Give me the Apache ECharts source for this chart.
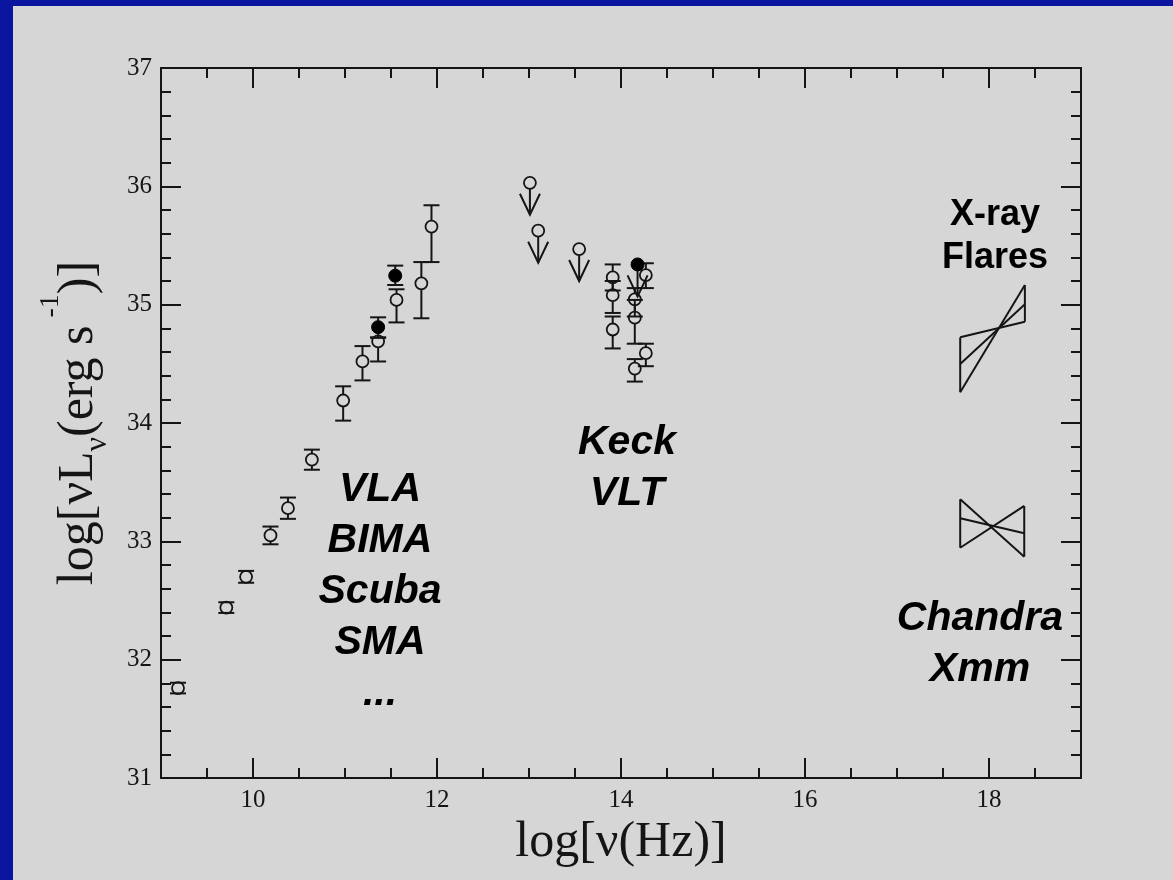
<!DOCTYPE html>
<html>
<head>
<meta charset="utf-8">
<script src="https://cdn.jsdelivr.net/npm/echarts@6/dist/echarts.min.js"></script>
<style>
  html, body { margin: 0; padding: 0; width: 1173px; height: 880px; overflow: hidden; background: #0b16a0; }
  #chart { position: absolute; left: 13px; top: 6px; width: 1160px; height: 874px; background: #d6d6d6; }
</style>
</head>
<body>
<div id="chart"></div>
<script>
// Axis ticks
const xMajorTicks = [10, 12, 14, 16, 18];

// Detections, open symbols: [log nu, log nuL_nu, lower error, upper error]
const openPoints = [
  [9.185, 31.76, 31.715, 31.805],
  [9.71, 32.44, 32.395, 32.485],
  [9.925, 32.70, 32.65, 32.75],
  [10.19, 33.05, 32.975, 33.125],
  [10.38, 33.28, 33.19, 33.37],
  [10.64, 33.69, 33.605, 33.775],
  [10.98, 34.19, 34.02, 34.31],
  [11.19, 34.52, 34.36, 34.65],
  [11.36, 34.69, 34.52, 34.72],
  [11.56, 35.04, 34.85, 35.13],
  [11.83, 35.18, 34.885, 35.36],
  [11.94, 35.66, 35.36, 35.84],
  [13.91, 35.23, 35.12, 35.34],
  [13.91, 35.08, 34.93, 35.20],
  [13.91, 34.79, 34.63, 34.90],
  [14.15, 35.045, 34.90, 35.14],
  [14.15, 34.89, 34.67, 35.04],
  [14.15, 34.46, 34.35, 34.54],
  [14.27, 35.25, 35.14, 35.35],
  [14.27, 34.59, 34.48, 34.67]
];

// Detections, filled symbols: [log nu, log nuL_nu, lower error, upper error]
const filledPoints = [
  [11.36, 34.81, 34.724, 34.893],
  [11.546, 35.245, 35.166, 35.33]
];

// Upper limits: [log nu, log nuL_nu]
const openLimits = [
  [13.01, 36.03],
  [13.10, 35.625],
  [13.545, 35.47]
];
const filledLimits = [
  [14.18, 35.34]
];

// X-ray bow ties: [x left, x right, y at left, y at right] for each spectral slope
const flareBowtie = [
  [17.687, 18.39, 34.724, 34.856],
  [17.687, 18.39, 34.499, 35.003],
  [17.687, 18.39, 34.26, 35.166]
];
const quiescentBowtie = [
  [17.687, 18.383, 33.355, 32.870],
  [17.687, 18.383, 33.195, 33.068],
  [17.687, 18.383, 32.946, 33.299]
];

const ink = '#151515';
const lineStyle = { color: ink, width: 2 };
const R_OPEN = 6;
const R_FILLED = 6.5;
const CAP = 8;

function errorBarItem(radius) {
  return function (params, api) {
    const x = api.value(0), y = api.value(1), lo = api.value(2), hi = api.value(3);
    const c = api.coord([x, y]);
    const pLo = api.coord([x, lo]);
    const pHi = api.coord([x, hi]);
    const st = { stroke: ink, lineWidth: 2 };
    const kids = [];
    if (pHi[1] < c[1] - radius) {
      kids.push({ type: 'line', shape: { x1: c[0], y1: pHi[1], x2: c[0], y2: c[1] - radius }, style: st });
    }
    if (pLo[1] > c[1] + radius) {
      kids.push({ type: 'line', shape: { x1: c[0], y1: c[1] + radius, x2: c[0], y2: pLo[1] }, style: st });
    }
    kids.push({ type: 'line', shape: { x1: c[0] - CAP, y1: pHi[1], x2: c[0] + CAP, y2: pHi[1] }, style: st });
    kids.push({ type: 'line', shape: { x1: c[0] - CAP, y1: pLo[1], x2: c[0] + CAP, y2: pLo[1] }, style: st });
    return { type: 'group', children: kids };
  };
}

function arrowItem(radius) {
  return function (params, api) {
    const c = api.coord([api.value(0), api.value(1)]);
    const tip = c[1] + 32;
    const st = { stroke: ink, lineWidth: 2, fill: 'none' };
    return {
      type: 'group',
      children: [
        { type: 'line', shape: { x1: c[0], y1: c[1] + radius, x2: c[0], y2: tip }, style: st },
        { type: 'polyline', shape: { points: [[c[0] - 10, tip - 21], [c[0], tip], [c[0] + 10, tip - 21]] }, style: st }
      ]
    };
  };
}

function bowtieItem(params, api) {
  const a = api.coord([api.value(0), api.value(2)]);
  const b = api.coord([api.value(1), api.value(3)]);
  return { type: 'line', shape: { x1: a[0], y1: a[1], x2: b[0], y2: b[1] }, style: { stroke: ink, lineWidth: 2 } };
}

function bowtieEnds(rows) {
  const ys0 = rows.map(r => r[2]), ys1 = rows.map(r => r[3]);
  return [
    [rows[0][0], rows[0][0], Math.min(...ys0), Math.max(...ys0)],
    [rows[0][1], rows[0][1], Math.min(...ys1), Math.max(...ys1)]
  ];
}
function endItem(params, api) {
  const a = api.coord([api.value(0), api.value(2)]);
  const b = api.coord([api.value(1), api.value(3)]);
  return { type: 'line', shape: { x1: a[0], y1: a[1], x2: b[0], y2: b[1] }, style: { stroke: ink, lineWidth: 2 } };
}

const serif = 'Liberation Serif';
const sans = 'Liberation Sans';

function xAxisPair(position, withLabels) {
  const minor = {
    type: 'value', position: position, min: 9, max: 19, interval: 0.5,
    axisLine: { show: true, onZero: false, lineStyle: lineStyle },
    axisTick: { show: true, inside: true, length: 10, lineStyle: lineStyle },
    axisLabel: { show: false }, splitLine: { show: false }
  };
  const major = {
    type: 'value', position: position, min: 9, max: 19,
    axisLine: { show: false, onZero: false },
    axisTick: { show: true, inside: true, length: 20, customValues: xMajorTicks, lineStyle: lineStyle },
    axisLabel: withLabels
      ? { show: true, customValues: xMajorTicks, margin: 10, color: ink, fontFamily: serif, fontSize: 25 }
      : { show: false },
    splitLine: { show: false }
  };
  if (withLabels) {
    major.name = 'log[ν(Hz)]';
    major.nameLocation = 'middle';
    major.nameGap = 36;
    major.nameTextStyle = { color: ink, fontFamily: serif, fontSize: 50, verticalAlign: 'top' };
  }
  return [minor, major];
}

function yAxisDef(position, withLabels) {
  const ax = {
    type: 'value', position: position, min: 31, max: 37, interval: 1,
    axisLine: { show: true, onZero: false, lineStyle: lineStyle },
    axisTick: { show: true, inside: true, length: 20, lineStyle: lineStyle },
    minorTick: { show: true, splitNumber: 5, length: 10, lineStyle: lineStyle },
    axisLabel: withLabels
      ? { show: true, margin: 9, color: ink, fontFamily: serif, fontSize: 25, showMinLabel: true, showMaxLabel: true }
      : { show: false },
    splitLine: { show: false }, minorSplitLine: { show: false }
  };
  if (withLabels) {
    ax.name = '{m|log[νL}{sub|ν}{m|(erg s}{sup|-1}{m|)]}';
    ax.nameLocation = 'middle';
    ax.nameGap = 40;
    ax.nameRotate = 90;
    ax.nameTextStyle = {
      color: ink, fontFamily: serif, fontSize: 50,
      rich: {
        m: { fontFamily: serif, fontSize: 50, color: ink },
        sub: { fontFamily: serif, fontSize: 32, color: ink, padding: [38, 0, 0, 0] },
        sup: { fontFamily: serif, fontSize: 28, color: ink, padding: [0, 0, 56, 8] }
      }
    };
  }
  return ax;
}

const chart = echarts.init(document.getElementById('chart'), null, { renderer: 'canvas' });

const italicLabel = (x, y, lines) => ({
  type: 'text', x: x, y: y, silent: true,
  style: {
    text: lines.join('\n'), align: 'center', verticalAlign: 'top',
    fontFamily: sans, fontStyle: 'italic', fontWeight: 'bold', fontSize: 41,
    lineHeight: 51, fill: '#000'
  }
});

chart.setOption({
  animation: false,
  backgroundColor: 'transparent',
  grid: { left: 148, top: 62, right: 92, bottom: 102, containLabel: false },
  xAxis: [...xAxisPair('bottom', true), ...xAxisPair('top', false)],
  yAxis: [yAxisDef('left', true), yAxisDef('right', false)],
  graphic: [
    italicLabel(367, 458, ['VLA', 'BIMA', 'Scuba', 'SMA', '...']),
    italicLabel(614, 411, ['Keck', 'VLT']),
    italicLabel(967, 587, ['Chandra', 'Xmm']),
    {
      type: 'text', x: 982, y: 188, silent: true,
      style: {
        text: 'X-ray\nFlares', align: 'center', verticalAlign: 'top',
        fontFamily: sans, fontWeight: 'bold', fontSize: 36, lineHeight: 43, fill: '#000'
      }
    }
  ],
  series: [
    { type: 'custom', name: 'open errors', data: openPoints, renderItem: errorBarItem(R_OPEN), encode: { x: 0, y: 1 }, z: 3, silent: true },
    { type: 'custom', name: 'filled errors', data: filledPoints, renderItem: errorBarItem(R_FILLED), encode: { x: 0, y: 1 }, z: 3, silent: true },
    { type: 'custom', name: 'open limits', data: openLimits, renderItem: arrowItem(R_OPEN), encode: { x: 0, y: 1 }, z: 3, silent: true },
    { type: 'custom', name: 'filled limits', data: filledLimits, renderItem: arrowItem(R_FILLED), encode: { x: 0, y: 1 }, z: 3, silent: true },
    {
      type: 'scatter', name: 'open', data: openPoints.concat(openLimits).map(p => [p[0], p[1]]),
      symbol: 'circle', symbolSize: R_OPEN * 2,
      itemStyle: { color: 'rgba(0,0,0,0)', borderColor: ink, borderWidth: 1.8, opacity: 1 }, z: 4, silent: true
    },
    {
      type: 'scatter', name: 'filled', data: filledPoints.concat(filledLimits).map(p => [p[0], p[1]]),
      symbol: 'circle', symbolSize: R_FILLED * 2,
      itemStyle: { color: '#000', borderColor: '#000', borderWidth: 1, opacity: 1 }, z: 4, silent: true
    },
    { type: 'custom', name: 'flares', data: flareBowtie, renderItem: bowtieItem, encode: { x: [0, 1], y: [2, 3] }, silent: true },
    { type: 'custom', name: 'flare ends', data: bowtieEnds(flareBowtie), renderItem: endItem, encode: { x: [0, 1], y: [2, 3] }, silent: true },
    { type: 'custom', name: 'quiescent', data: quiescentBowtie, renderItem: bowtieItem, encode: { x: [0, 1], y: [2, 3] }, silent: true },
    { type: 'custom', name: 'quiescent ends', data: bowtieEnds(quiescentBowtie), renderItem: endItem, encode: { x: [0, 1], y: [2, 3] }, silent: true }
  ]
});
</script>
</body>
</html>
